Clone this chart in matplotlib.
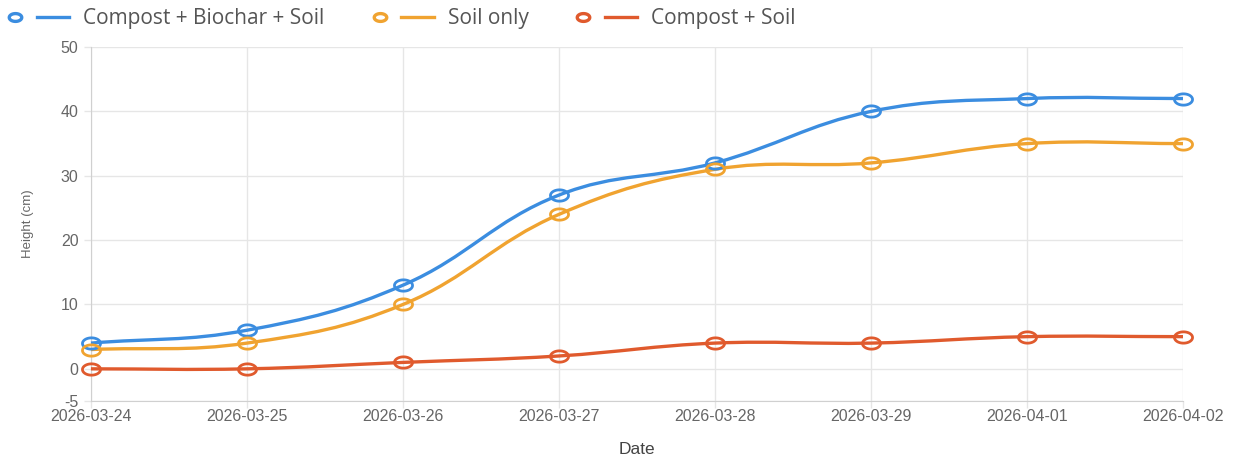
import matplotlib.pyplot as plt
import numpy as np
from matplotlib.path import Path
from matplotlib.patches import PathPatch
from matplotlib.lines import Line2D
from matplotlib.legend_handler import HandlerBase

plt.rcParams['axes.unicode_minus'] = False
plt.rcParams['font.family'] = ['Liberation Sans', 'DejaVu Sans']

# Datos
fechas = ['2026-03-24', '2026-03-25', '2026-03-26', '2026-03-27',
          '2026-03-28', '2026-03-29', '2026-04-01', '2026-04-02']
biochar = [4, 6, 13, 27, 32, 40, 42, 42]
solo_suelo = [3, 4, 10, 24, 31, 32, 35, 35]
compost = [0, 0, 1, 2, 4, 4, 5, 5]

series = [
    ('Compost + Biochar + Soil', biochar, '#3b8de0'),
    ('Soil only', solo_suelo, '#f0a330'),
    ('Compost + Soil', compost, '#e05a2d'),
]

# escala aproximada en pixeles (para la tension de la curva)
px_x, px_y = 156.0, 6.44
tension = 0.4

# marcador eliptico (la imagen original esta estirada en horizontal)
t = np.linspace(0, 2 * np.pi, 60)
elipse = Path(np.column_stack([1.6 * np.cos(t), np.sin(t)]), closed=True)


def curva_bezier(xs, ys):
    pts = np.column_stack([xs, ys]).astype(float)
    n = len(pts)
    esc = np.array([px_x, px_y])
    ctrl_prev, ctrl_next = [], []
    for i in range(n):
        cur = pts[i]
        prev = pts[i - 1] if i > 0 else cur
        nxt = pts[i + 1] if i < n - 1 else cur
        d01 = np.linalg.norm((cur - prev) * esc)
        d12 = np.linalg.norm((nxt - cur) * esc)
        tot = d01 + d12
        s01 = d01 / tot if tot else 0
        s12 = d12 / tot if tot else 0
        ctrl_prev.append(cur - tension * s01 * (nxt - prev))
        ctrl_next.append(cur + tension * s12 * (nxt - prev))
    verts = [pts[0]]
    codes = [Path.MOVETO]
    for i in range(n - 1):
        verts += [ctrl_next[i], ctrl_prev[i + 1], pts[i + 1]]
        codes += [Path.CURVE4] * 3
    return Path(verts, codes)


class CirculoLinea(HandlerBase):
    def create_artists(self, legend, orig, xdescent, ydescent, width, height,
                       fontsize, trans):
        color = orig.get_color()
        y = height / 2 - ydescent
        x0 = -xdescent
        m = Line2D([x0 + 0.115 * width], [y], marker=elipse, ls='none', ms=9,
                   mfc='none', mec=color, mew=2.4, transform=trans)
        l = Line2D([x0 + 0.475 * width, x0 + width], [y, y], color=color,
                   lw=2.4, transform=trans)
        return [m, l]


fig = plt.figure(figsize=(12.39, 4.57), dpi=100)
ax = fig.add_axes([0.0734, 0.1225, 0.8814, 0.7745])

x = np.arange(len(fechas))
handles = []
for nombre, vals, color in series:
    patch = PathPatch(curva_bezier(x, vals), facecolor='none', edgecolor=color,
                      lw=2.4, zorder=3, clip_on=False)
    ax.add_patch(patch)
    ax.plot(x, vals, marker=elipse, ls='none', ms=13, mfc='none', mec=color,
            mew=2.0, zorder=4, clip_on=False)
    handles.append(Line2D([], [], color=color))

ax.set_xlim(0, len(fechas) - 1)
ax.set_ylim(-5, 50)
ax.set_xticks(x)
ax.set_xticklabels(fechas)
ax.set_yticks([-5, 0, 10, 20, 30, 40, 50])

ax.grid(True, color='#e6e6e6', lw=1)
ax.set_axisbelow(True)
for s in ['top', 'right']:
    ax.spines[s].set_visible(False)
for s in ['left', 'bottom']:
    ax.spines[s].set_color('#d0d0d0')
ax.tick_params(axis='both', colors='#e6e6e6', length=5, width=1,
               labelcolor='#666666', labelsize=11.5)
ax.tick_params(axis='y', pad=4)
ax.tick_params(axis='x', pad=1)

ax.set_xlabel('Date', fontsize=12.5, color='#444444', labelpad=13)
ax.set_ylabel('Height (cm)', fontsize=9.5, color='#666666', labelpad=19)

fig.legend(handles, [s[0] for s in series],
           handler_map={Line2D: CirculoLinea()},
           loc='upper left', bbox_to_anchor=(0.0, 1.0), ncol=3,
           frameon=False, labelcolor='#555555',
           prop={'family': ['Open Sans', 'DejaVu Sans'], 'size': 15},
           handlelength=2.93, handletextpad=0.67, columnspacing=2.3,
           borderpad=0.2, borderaxespad=0.2)

fig.savefig('out.png', dpi=100)
